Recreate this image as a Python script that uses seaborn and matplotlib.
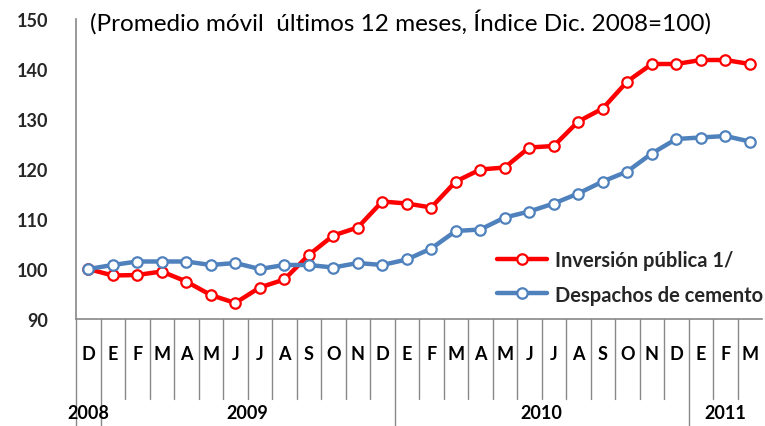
import matplotlib
matplotlib.use("Agg")
import matplotlib.pyplot as plt
import matplotlib.transforms as mtransforms
from matplotlib.lines import Line2D
import seaborn as sns
import pandas as pd
import numpy as np

months = ["D", "E", "F", "M", "A", "M", "J", "J", "A", "S", "O", "N", "D",
          "E", "F", "M", "A", "M", "J", "J", "A", "S", "O", "N", "D",
          "E", "F", "M"]
inversion = [100.0, 98.7, 98.8, 99.5, 97.5, 94.8, 93.2, 96.3, 97.9, 102.8, 106.7, 108.3, 113.5,
             113.1, 112.3, 117.5, 119.9, 120.3, 124.3, 124.6, 129.5, 132.1, 137.5, 141.0, 141.0,
             141.8, 141.8, 141.0]
cemento = [100.0, 100.8, 101.5, 101.5, 101.5, 100.8, 101.2, 100.0, 100.8, 100.8, 100.3, 101.2, 100.8,
           101.9, 104.1, 107.6, 107.9, 110.3, 111.5, 113.1, 115.1, 117.5, 119.5, 123.1, 126.0,
           126.3, 126.6, 125.5]
years = ["2008", "2009", "2010", "2011"]
year_spans = [(0, 0), (1, 12), (13, 24), (25, 27)]
series_names = ["Inversión pública 1/", "Despachos de cemento"]
yticks = [90, 100, 110, 120, 130, 140, 150]
subtitle = "(Promedio móvil  últimos 12 meses, Índice Dic. 2008=100)"

sns.set_theme(style="white")
plt.rcParams["font.family"] = ["Lato", "DejaVu Sans"]

n = len(months)
df = pd.DataFrame({
    "idx": list(range(n)) * 2,
    "valor": inversion + cemento,
    "serie": [series_names[0]] * n + [series_names[1]] * n,
})

fig = plt.figure(figsize=(7.65, 4.27), dpi=100)
ax = fig.add_axes([76 / 765, 107 / 427, 686 / 765, 300 / 427])

palette = {series_names[0]: "#FF0000", series_names[1]: "#4F81BD"}
sns.lineplot(data=df, x="idx", y="valor", hue="serie", palette=palette, ax=ax,
             linewidth=3.2, marker="o", markersize=7.5, markerfacecolor="white",
             markeredgewidth=1.6, legend=False)
for line in ax.lines:
    line.set_markeredgecolor(line.get_color())

ax.set_xlim(-0.5, n - 0.5)
ax.set_ylim(90, 150)
ax.set_yticks(yticks)
ax.set_yticklabels([str(v) for v in yticks], fontweight="bold", fontsize=13)
ax.set_xlabel("")
ax.set_ylabel("")
ax.set_xticks([])

grey = "#888888"
for s in ["top", "right"]:
    ax.spines[s].set_visible(False)
for s in ["left", "bottom"]:
    ax.spines[s].set_color(grey)
    ax.spines[s].set_linewidth(1.2)
ax.tick_params(axis="y", direction="out", length=6, color=grey, width=1.2, pad=14)

trans = mtransforms.blended_transform_factory(ax.transData, ax.transAxes)
px = 1 / 300.0  # axes fraction per pixel (height 300 px)
year_bounds = {-0.5, 0.5, 12.5, 24.5}
for b in np.arange(-0.5, n, 1.0):
    if b > n - 0.6:
        break
    bottom = -107 * px if b in year_bounds else -80 * px
    ax.plot([b, b], [0, bottom], transform=trans, color=grey, lw=1.0, clip_on=False)
for i, m in enumerate(months):
    ax.text(i, -35 * px, m, transform=trans, ha="center", va="center",
            fontsize=13, fontweight="bold", color="black")
for y, (a, b) in zip(years, year_spans):
    ax.text((a + b) / 2, -94 * px, y, transform=trans, ha="center", va="center",
            fontsize=13, fontweight="bold", color="black")

fig.text(90 / 765, 1 - 22 / 427, subtitle, ha="left", va="center", fontsize=17.5, color="black")

handles = [Line2D([0], [0], color=palette[s], lw=3.2, marker="o", markersize=7.5,
                  markerfacecolor="white", markeredgecolor=palette[s], markeredgewidth=1.6)
           for s in series_names]
ax.legend(handles, series_names, loc="upper left", bbox_to_anchor=(415 / 686, 1 - 225 / 300),
          frameon=False, handlelength=2.5, handletextpad=0.4, labelspacing=0.72,
          borderaxespad=0, borderpad=0.3,
          prop={"weight": "bold", "size": 14.5})

fig.savefig("out.png", dpi=100)
